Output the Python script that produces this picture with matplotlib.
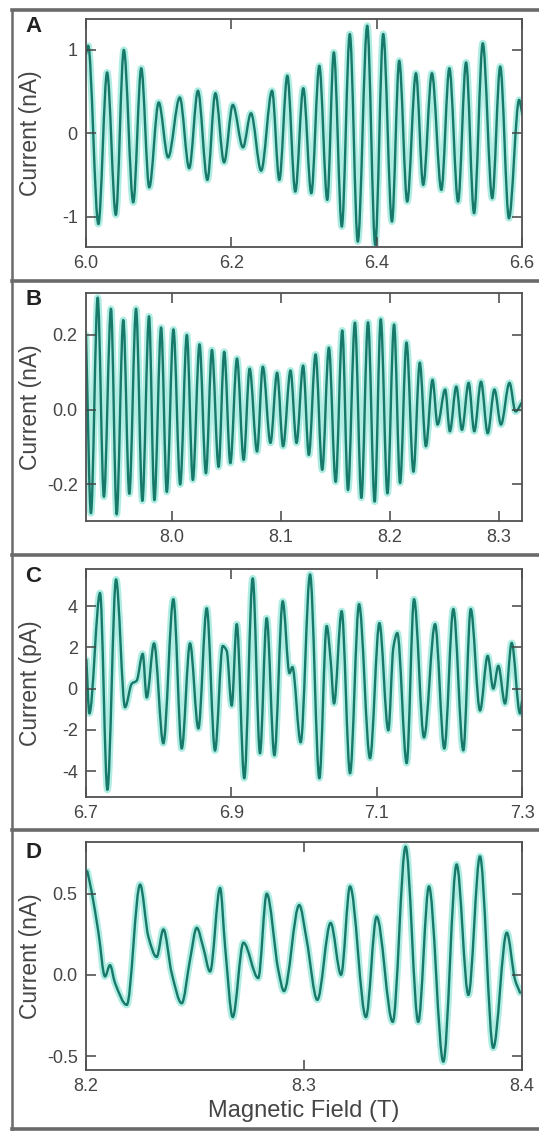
import matplotlib
matplotlib.use("Agg")
import matplotlib.pyplot as plt
from matplotlib.lines import Line2D
from matplotlib.path import Path
from matplotlib.patches import PathPatch
from matplotlib.ticker import FormatStrFormatter

plt.rcParams['font.family'] = ['Liberation Sans', 'DejaVu Sans']
plt.rcParams['axes.unicode_minus'] = False

# Panel A: 6.0 - 6.6 T, current in nA (turning points of the trace)
a_field = [6.000, 6.003, 6.017, 6.029, 6.041, 6.052, 6.065, 6.076, 6.087, 6.100,
           6.113, 6.129, 6.142, 6.154, 6.167, 6.178, 6.190, 6.202, 6.216, 6.227,
           6.241, 6.256, 6.266, 6.277, 6.288, 6.299, 6.310, 6.321, 6.332, 6.341,
           6.352, 6.363, 6.374, 6.387, 6.398, 6.409, 6.421, 6.431, 6.442, 6.454,
           6.464, 6.476, 6.489, 6.500, 6.512, 6.523, 6.534, 6.546, 6.559, 6.570,
           6.582, 6.596, 6.600]
a_current = [0.95, 1.05, -1.09, 0.73, -0.98, 1.00, -0.83, 0.78, -0.65, 0.37,
             -0.29, 0.43, -0.42, 0.51, -0.56, 0.48, -0.35, 0.34, -0.17, 0.24,
             -0.45, 0.51, -0.56, 0.69, -0.70, 0.54, -0.72, 0.81, -0.80, 0.97,
             -1.12, 1.19, -1.30, 1.29, -1.34, 1.19, -1.06, 0.87, -0.82, 0.72,
             -0.62, 0.72, -0.68, 0.78, -0.82, 0.85, -0.96, 1.08, -0.78, 0.80,
             -1.02, 0.40, 0.25]

# Panel B: 7.92 - 8.32 T, current in nA
b_field = [7.9210, 7.9255, 7.9317, 7.9374, 7.9439, 7.9491, 7.9552, 7.9607, 7.9669, 7.9727,
           7.9788, 7.9837, 7.9899, 7.9951, 8.0012, 8.0074, 8.0135, 8.0190, 8.0251, 8.0310,
           8.0365, 8.0426, 8.0478, 8.0534, 8.0595, 8.0656, 8.0711, 8.0779, 8.0832, 8.0902,
           8.0963, 8.1018, 8.1086, 8.1141, 8.1202, 8.1254, 8.1316, 8.1377, 8.1438, 8.1500,
           8.1561, 8.1613, 8.1677, 8.1736, 8.1797, 8.1858, 8.1914, 8.1975, 8.2036, 8.2091,
           8.2150, 8.2214, 8.2272, 8.2328, 8.2389, 8.2435, 8.2505, 8.2548, 8.2607, 8.2659,
           8.2720, 8.2772, 8.2834, 8.2895, 8.2957, 8.3017, 8.3095, 8.3150, 8.3210]
b_current = [0.20, -0.277, 0.30, -0.233, 0.27, -0.28, 0.24, -0.225, 0.27, -0.244,
             0.25, -0.242, 0.22, -0.22, 0.215, -0.20, 0.20, -0.188, 0.175, -0.17,
             0.16, -0.153, 0.155, -0.143, 0.137, -0.134, 0.11, -0.112, 0.115, -0.089,
             0.099, -0.098, 0.105, -0.089, 0.118, -0.121, 0.148, -0.161, 0.166, -0.193,
             0.212, -0.215, 0.233, -0.236, 0.234, -0.246, 0.242, -0.224, 0.228, -0.196,
             0.18, -0.166, 0.126, -0.098, 0.08, -0.04, 0.054, -0.058, 0.062, -0.054,
             0.072, -0.058, 0.075, -0.063, 0.054, -0.04, 0.072, -0.005, 0.02]

# Panel C: 6.7 - 7.3 T, current in pA
c_field = [6.7005, 6.7046, 6.7193, 6.7294, 6.7413, 6.7537, 6.7629, 6.7697, 6.7780, 6.7835,
           6.7936, 6.8064, 6.8202, 6.8317, 6.8431, 6.8546, 6.8661, 6.8775, 6.8881, 6.8936,
           6.9005, 6.9074, 6.9178, 6.9294, 6.9394, 6.9486, 6.9592, 6.9707, 6.9800, 6.9840,
           6.9954, 7.0083, 7.0211, 7.0312, 7.0367, 7.0413, 7.0518, 7.0633, 7.0757, 7.0908,
           7.1037, 7.1160, 7.1229, 7.1284, 7.1413, 7.1514, 7.1651, 7.1803, 7.1931, 7.2055,
           7.2192, 7.2294, 7.2422, 7.2527, 7.2605, 7.2674, 7.2766, 7.2858, 7.2972, 7.3000]
c_current = [1.4, -1.2, 4.64, -4.9, 5.3, -0.9, 0.24, 0.39, 1.69, -0.43,
             2.2, -2.65, 4.34, -2.9, 2.2, -1.93, 3.9, -3.0, 2.07, 1.83,
             -0.82, 3.13, -4.34, 5.35, -3.13, 3.42, -3.23, 4.24, 0.75, 1.05,
             -2.6, 5.54, -4.34, 3.04, 1.35, -0.72, 3.76, -4.1, 4.1, -3.37,
             3.18, -2.02, 1.98, 2.7, -3.61, 4.34, -2.36, 3.13, -2.9, 3.86,
             -2.99, 3.86, -1.06, 1.59, 0.0, 1.11, -0.72, 2.22, -1.2, -0.6]

# Panel D: 8.2 - 8.4 T, current in nA
d_field = [8.2006, 8.2026, 8.2057, 8.2087, 8.2110, 8.2133, 8.2187, 8.2248, 8.2286, 8.2324,
           8.2355, 8.2393, 8.2439, 8.2477, 8.2508, 8.2538, 8.2569, 8.2615, 8.2638, 8.2673,
           8.2722, 8.2790, 8.2829, 8.2882, 8.2908, 8.2978, 8.3012, 8.3061, 8.3122, 8.3170,
           8.3211, 8.3284, 8.3333, 8.3407, 8.3466, 8.3524, 8.3573, 8.3639, 8.3700, 8.3754,
           8.3807, 8.3868, 8.3930, 8.3968, 8.3991]
d_current = [0.638, 0.51, 0.26, -0.01, 0.06, -0.05, -0.185, 0.556, 0.235, 0.11,
             0.28, 0.01, -0.175, 0.093, 0.29, 0.167, 0.02, 0.535, 0.173, -0.26,
             0.198, -0.02, 0.50, 0.03, -0.10, 0.43, 0.216, -0.154, 0.32, 0.0,
             0.545, -0.26, 0.358, -0.29, 0.79, -0.29, 0.545, -0.535, 0.68, -0.124,
             0.73, -0.45, 0.26, -0.03, -0.11]

panels = [
    ("A", a_field, a_current, (6.0, 6.6), (-1.365, 1.365), [6.0, 6.2, 6.4, 6.6],
     [-1, 0, 1], "%d", "Current (nA)", 0.7816),
    ("B", b_field, b_current, (7.921, 8.321), (-0.298, 0.311), [8.0, 8.1, 8.2, 8.3],
     [-0.2, 0.0, 0.2], "%.1f", "Current (nA)", 0.5393),
    ("C", c_field, c_current, (6.7, 7.3), (-5.25, 5.78), [6.7, 6.9, 7.1, 7.3],
     [-4, -2, 0, 2, 4], "%d", "Current (pA)", 0.2953),
    ("D", d_field, d_current, (8.2, 8.4), (-0.586, 0.815), [8.2, 8.3, 8.4],
     [-0.5, 0.0, 0.5], "%.1f", "Current (nA)", 0.0539),
]
letter_y = [0.9770, 0.7350, 0.4900, 0.2462]


def smooth_path(xs, ys):
    # cubic segments through the turning points, flat at each extremum
    n = len(xs)
    sec = [(ys[i + 1] - ys[i]) / (xs[i + 1] - xs[i]) for i in range(n - 1)]
    m = [sec[0]] + [0.0] * (n - 2) + [sec[-1]]
    for i in range(1, n - 1):
        if sec[i - 1] * sec[i] > 0:
            m[i] = 2 * sec[i - 1] * sec[i] / (sec[i - 1] + sec[i])
    verts = [(xs[0], ys[0])]
    codes = [Path.MOVETO]
    for i in range(n - 1):
        h = (xs[i + 1] - xs[i]) / 3
        verts += [(xs[i] + h, ys[i] + m[i] * h),
                  (xs[i + 1] - h, ys[i + 1] - m[i + 1] * h),
                  (xs[i + 1], ys[i + 1])]
        codes += [Path.CURVE4] * 3
    return Path(verts, codes)


fig = plt.figure(figsize=(5.39, 11.31), dpi=100)
ink = '#454545'

for (tag, xs, ys, xlim, ylim, xt, yt, yfmt, ylab, bottom), ly in zip(panels, letter_y):
    ax = fig.add_axes([0.1596, bottom, 0.8089, 0.2012])
    trace = smooth_path(xs, ys)
    # soft glow under the trace, then the trace itself
    ax.add_patch(PathPatch(trace, fill=False, edgecolor='#8ee5d7', lw=5,
                           alpha=0.7, joinstyle='round', capstyle='round'))
    ax.add_patch(PathPatch(trace, fill=False, edgecolor='#17796a', lw=1.7,
                           joinstyle='round', capstyle='round'))
    ax.set_xlim(*xlim)
    ax.set_ylim(*ylim)
    ax.set_xticks(xt)
    ax.set_yticks(yt)
    ax.xaxis.set_major_formatter(FormatStrFormatter('%.1f'))
    ax.yaxis.set_major_formatter(FormatStrFormatter(yfmt))
    ax.tick_params(direction='in', length=7, width=1.1, color='#444444',
                   top=True, right=True, labelsize=13, labelcolor=ink, pad=6)
    for sp in ax.spines.values():
        sp.set_color('#505050')
        sp.set_linewidth(1.3)
    ax.set_ylabel(ylab, fontsize=16.5, color=ink)
    ax.yaxis.set_label_coords(-0.100, 0.5)
    if tag == "D":
        ax.set_xlabel("Magnetic Field (T)", fontsize=17, color=ink, labelpad=3)
    fig.text(0.047, ly, tag, fontsize=16, fontweight='bold', color='#222222',
             va='center', ha='left')

# panel frames
frame = dict(color='#6a6a6a', transform=fig.transFigure)
fig.add_artist(Line2D([0.0223, 0.0223], [0.0018, 0.9912], lw=1.8, **frame))
for yy in [0.9912, 0.7515, 0.5093, 0.2661, 0.0018]:
    fig.add_artist(Line2D([0.0223, 1.0], [yy, yy], lw=2.6, **frame))

fig.savefig("out.png", dpi=100)
